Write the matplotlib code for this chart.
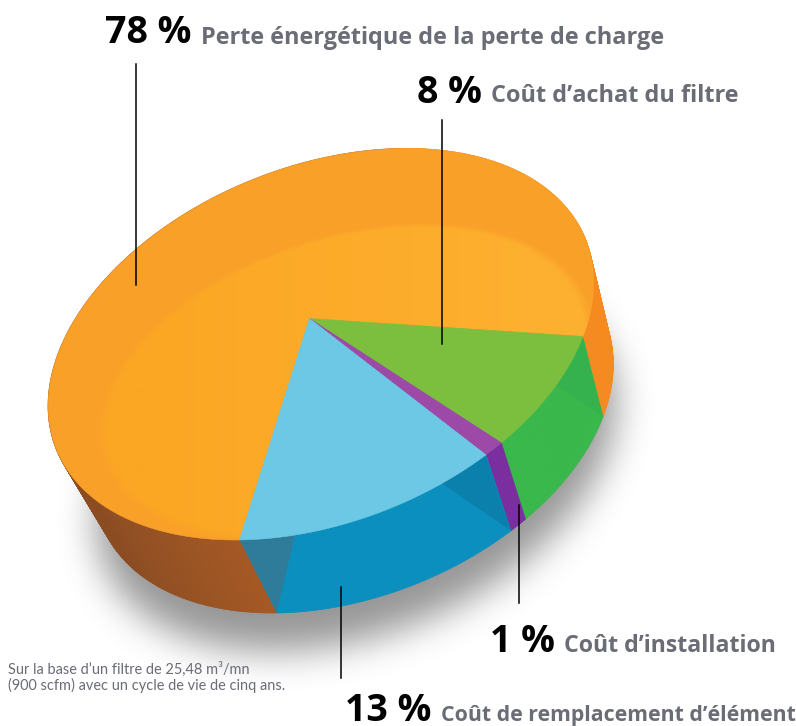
import numpy as np
import matplotlib
matplotlib.use('Agg')
import matplotlib.pyplot as plt
from matplotlib.colors import to_rgb
from matplotlib.patches import Polygon

# chart values, clockwise from the orange/green edge
labels = ["Coût d’achat du filtre", "Coût d’installation",
          "Coût de remplacement d’élément", "Perte énergétique de la perte de charge"]
percents = [8, 1, 13, 78]
top_colors = ['#7cbf3e', '#9c49a8', '#6cc8e4', '#f9a029']
wall_colors = ['#39b84b', '#7a2ea0', '#0a8fbf', '#f68a1f']

fig = plt.figure(figsize=(7.96, 7.26), dpi=100)
ax = fig.add_axes([0, 0, 1, 1])

edges = np.radians(np.cumsum([0] + percents) * 3.6)

# the disc is seen in perspective, so fit where the unit circle lands
src = [(0, 0), (1, 0), (np.cos(edges[2]), np.sin(edges[2])), (np.cos(edges[3]), np.sin(edges[3]))]
seen_edges = np.array([310, 320, 584, 335, 485, 453, 238, 542], float)
seen_rim = np.array([(137, 255), (48, 403), (80, 313), (197, 200), (320, 160), (410, 148),
                     (520, 177), (577, 220), (597, 287), (73, 485), (130, 515), (197, 537)], float)

def fit_h(p):
    rows = []
    for (u, v), (x, y) in zip(src, p.reshape(4, 2)):
        rows.append([u, v, 1, 0, 0, 0, -u * x, -v * x, -x])
        rows.append([0, 0, 0, u, v, 1, -u * y, -v * y, -y])
    return np.linalg.svd(np.array(rows))[2][-1].reshape(3, 3)

def project(h, theta):
    u, v = np.cos(theta), np.sin(theta)
    w = h[2, 0] * u + h[2, 1] * v + h[2, 2]
    return (h[0, 0] * u + h[0, 1] * v + h[0, 2]) / w, (h[1, 0] * u + h[1, 1] * v + h[1, 2]) / w

def radius(h, x, y):
    hi = np.linalg.inv(h)
    w = hi[2, 0] * x + hi[2, 1] * y + hi[2, 2]
    u = (hi[0, 0] * x + hi[0, 1] * y + hi[0, 2]) / w
    v = (hi[1, 0] * x + hi[1, 1] * y + hi[1, 2]) / w
    return np.hypot(u, v), w

def residual(p):
    h = fit_h(p)
    r = radius(h, seen_rim[:, 0], seen_rim[:, 1])[0]
    return np.concatenate([(r - 1) * 280, (p - seen_edges) * 1.2])

p = seen_edges.copy()
for _ in range(12):
    r0 = residual(p)
    J = np.array([(residual(p + np.eye(8)[i] * 0.25) - r0) / 0.25 for i in range(8)]).T
    p = p + 0.7 * np.linalg.lstsq(J, -r0, rcond=None)[0]
H = fit_h(p)
apex = tuple(p[:2])

def bottom(x, y):
    return x * 0.951 + 48.7, y * 0.966 + 91.4

# soft shadow under the disc
gx, gy = np.meshgrid(np.arange(796.0), np.arange(726.0))
rr, w = radius(H, (gx - 50.7) / 0.951, (gy - 130) / 0.966)
w0 = radius(H, np.array([310.0]), np.array([320.0]))[1][0]
blur = ((rr < 1) & (w * w0 > 0)).astype(float)
kernel = np.ones(35) / 35
for _ in range(3):
    blur = np.apply_along_axis(lambda c: np.convolve(c, kernel, mode='same'), 0, blur)
    blur = np.apply_along_axis(lambda c: np.convolve(c, kernel, mode='same'), 1, blur)
shadow = np.zeros((726, 796, 4))
shadow[..., :3] = 0.4
shadow[..., 3] = blur * 0.68
ax.imshow(shadow, extent=(-0.5, 795.5, 725.5, -0.5), zorder=1, aspect='auto', interpolation='bilinear')

def mix(c0, c1, t):
    c0, c1 = np.array(to_rgb(c0)), np.array(to_rgb(c1))
    return tuple(c0 + (c1 - c0) * min(max(t, 0), 1))

# side wall
for i in range(4):
    th = np.linspace(edges[i], edges[i + 1], int(percents[i] * 6) + 4)
    for j in range(len(th) - 1):
        x0, y0 = project(H, th[j])
        x1, y1 = project(H, th[j + 1])
        x2, y2 = bottom(x1, y1)
        x3, y3 = bottom(x0, y0)
        c = wall_colors[i]
        if i == 3 and (x0 + x1) / 2 < 400:
            c = mix('#8c4c22', '#a95b25', ((x0 + x1) / 2 - 90) / 170)
        ax.add_patch(Polygon([(x0, y0), (x1, y1), (x2, y2), (x3, y3)], fc=c, ec=c, lw=0.5, zorder=2))

def wall_triangle(i, f0, f1, f2, color):
    # two points on the top edge and one on the lower edge of a slice
    a = project(H, edges[i] + f0 * (edges[i + 1] - edges[i]))
    b = project(H, edges[i] + f1 * (edges[i + 1] - edges[i]))
    c = bottom(*project(H, edges[i] + f2 * (edges[i + 1] - edges[i])))
    ax.add_patch(Polygon([a, b, c], fc=color, ec='none', zorder=2.5))

wall_triangle(2, 1.0, 0.78, 1.0, '#2f7c9a')
wall_triangle(2, 0.0, 0.2, 0.0, '#0b80ad')
wall_triangle(0, 0.0, 0.45, 0.0, '#35b24e')

# top face
for i in range(4):
    th = np.linspace(edges[i], edges[i + 1], int(percents[i] * 6) + 4)
    xs, ys = project(H, th)
    face = Polygon([apex] + list(zip(xs, ys)), fc=top_colors[i], ec=top_colors[i], lw=0.4,
                   zorder=3.5 if i < 3 else 3)
    ax.add_patch(face)

# lighter inner area of the big slice, soft at its edge
lens, _ = radius(H, 600 + (gx - 600) / 0.911, 560 + (gy - 560) / 0.818)
glow = np.zeros((726, 796, 4))
t = np.clip((gx - 150) / 440, 0, 1)[..., None]
glow[..., :3] = np.array(to_rgb('#fba724')) * (1 - t) + np.array(to_rgb('#feb131')) * t
glow[..., 3] = np.clip((1 - lens) / 0.04, 0, 1)
im = ax.imshow(glow, extent=(-0.5, 795.5, 725.5, -0.5), zorder=3.2, aspect='auto')
im.set_clip_path(face)

ax.set_xlim(0, 796)
ax.set_ylim(726, 0)
ax.axis('off')

# leader lines
for x, y0, y1 in [(136, 64, 285), (442, 120, 344), (519, 505, 603), (341, 587, 678)]:
    ax.plot([x, x], [y0, y1], color='black', lw=1.1, zorder=5)

# labels
num_font = dict(family='Open Sans', weight='bold', size=27, color='black', va='baseline', zorder=6)
txt_font = dict(family='Open Sans', weight='bold', color='#6a6c76', va='baseline', zorder=6)
ax.text(105, 43, f"{percents[3]} %", **num_font)
ax.text(201, 44, labels[3], size=16.9, **txt_font)
ax.text(417, 103, f"{percents[0]} %", **num_font)
ax.text(491, 102, labels[0], size=16.9, **txt_font)
ax.text(490, 652, f"{percents[1]} %", **num_font)
ax.text(564, 652, labels[1], size=16.7, **txt_font)
ax.text(345, 721, f"{percents[2]} %", **num_font)
ax.text(441, 721, labels[2], size=15.3, **txt_font)
small = dict(family='Lato', size=10.45, color='#6a6c76', va='baseline', zorder=6)
ax.text(8, 674, "Sur la base d’un filtre de 25,48 m³/mn", **small)
ax.text(8, 690, "(900 scfm) avec un cycle de vie de cinq ans.", **small)

fig.savefig('out.png', dpi=100)
